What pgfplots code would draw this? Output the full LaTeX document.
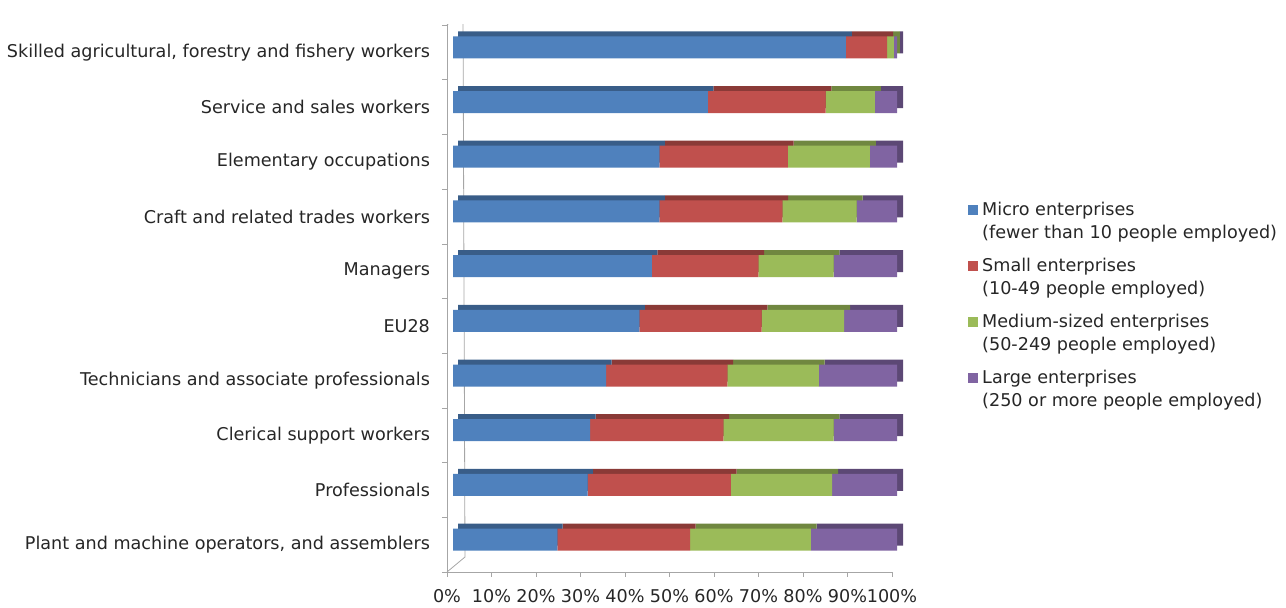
\documentclass[border=0pt]{standalone}
\usepackage{fontspec}
\setmainfont{DejaVu Sans}
\usepackage{pgfplots}
\usepackage{pgfplotstable}
\pgfplotsset{compat=1.18}

\definecolor{cmicro}{HTML}{4F81BD}
\definecolor{csmall}{HTML}{C0504D}
\definecolor{cmedium}{HTML}{9BBB59}
\definecolor{clarge}{HTML}{8064A2}
\definecolor{wall}{HTML}{A6A6A6}

% share of employment by enterprise size, % (bottom row first)
\pgfplotstableread{
y micro small medium large
0 23.5 29.9 27.2 19.4
1 30.3 32.3 22.8 14.6
2 30.9 30.0 24.8 14.3
3 34.5 27.3 20.6 17.6
4 42.0 27.5 18.6 11.9
5 44.8 24.0 16.9 14.3
6 46.5 27.7 16.7 9.1
7 46.5 28.9 18.5 6.1
8 57.4 26.5 11.1 5.0
9 88.5 9.3 1.5 0.7
}\shares

\pgfplotsset{
  barbase/.style={
    anchor=south west, scale only axis,
    height=273.5pt,
    xmin=0, xmax=100, ymin=-0.5, ymax=9.5,
    hide axis, xbar stacked, bar width=11pt,
  },
}

\begin{document}
\begin{tikzpicture}[font=\fontsize{8.8}{11.5}\selectfont]
\useasboundingbox (0,0) rectangle (643pt,304pt);

% frame: walls, ticks, labels
\begin{axis}[
  at={(223.5pt,18pt)}, anchor=south west, scale only axis,
  width=222.5pt, height=273.5pt,
  xmin=0, xmax=100, ymin=-0.5, ymax=9.5,
  axis x line*=bottom, axis y line*=left,
  axis line style={-, draw=wall},
  tick style={draw=wall}, tick align=outside, major tick length=2.5pt,
  /pgf/number format/assume math mode=true,
  xtick={0,10,...,100},
  xticklabel={\pgfmathprintnumber{\tick}\%},
  xticklabel style={text=black!85, yshift=-2.5pt},
  ytick={-0.5,0.5,...,9.5}, yticklabels={},
  extra y ticks={0,1,...,9},
  extra y tick style={major tick length=0pt, yticklabel style={text=black!85, xshift=-5pt}},
  extra y tick labels={
    {Plant and machine operators, and assemblers},
    {Professionals},
    {Clerical support workers},
    {Technicians and associate professionals},
    {EU28},
    {Managers},
    {Craft and related trades workers},
    {Elementary occupations},
    {Service and sales workers},
    {Skilled agricultural, forestry and fishery workers}},
]
\draw[wall] (rel axis cs:0,1) -- ++(8pt,7pt) -- ([xshift=9pt,yshift=7.5pt]rel axis cs:0,0) -- (rel axis cs:0,0);
\end{axis}

% back (top and end faces)
\begin{axis}[barbase, at={(229pt,23pt)}, width=222.5pt]
\addplot[fill=cmicro!72!black, draw=none] table[x=micro, y=y] {\shares};
\addplot[fill=csmall!72!black, draw=none] table[x=small, y=y] {\shares};
\addplot[fill=cmedium!72!black, draw=none] table[x=medium, y=y] {\shares};
\addplot[fill=clarge!72!black, draw=none] table[x=large, y=y] {\shares};
\end{axis}

% front faces + legend
\begin{axis}[barbase, at={(226.5pt,20.5pt)}, width=222pt,
  legend style={at={(1.1595,0.675)}, anchor=north west, draw=none, fill=none,
    inner sep=0pt, row sep=4.3pt, font=\fontsize{8.8}{11.5}\selectfont,
    cells={align=left, text=black!85}},
  legend cell align=left,
  legend image code/.code={\fill[#1] (0pt,3.3pt) rectangle (5pt,8.3pt);},
]
\addplot[fill=cmicro, draw=none] table[x=micro, y=y] {\shares};
\addlegendentry{Micro enterprises\\(fewer than 10 people employed)}
\addplot[fill=csmall, draw=none] table[x=small, y=y] {\shares};
\addlegendentry{Small enterprises\\(10-49 people employed)}
\addplot[fill=cmedium, draw=none] table[x=medium, y=y] {\shares};
\addlegendentry{Medium-sized enterprises\\(50-249 people employed)}
\addplot[fill=clarge, draw=none] table[x=large, y=y] {\shares};
\addlegendentry{Large enterprises\\(250 or more people employed)}
\end{axis}
\end{tikzpicture}
\end{document}
